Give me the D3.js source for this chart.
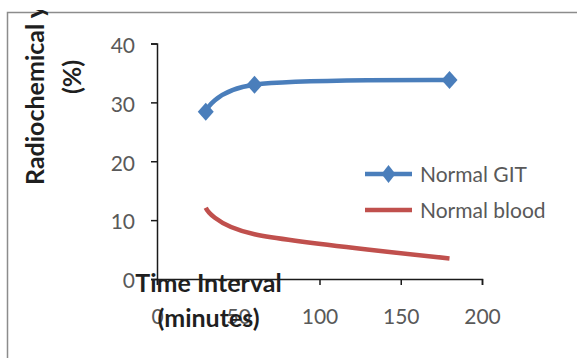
<!DOCTYPE html>
<html>
<head>
<meta charset="utf-8">
<script src="https://cdn.jsdelivr.net/npm/d3@7/dist/d3.min.js"></script>
<style>
  html, body { margin: 0; padding: 0; background: #fff; }
  svg { display: block; }
  text { font-family: Lato, "Open Sans", sans-serif; }
</style>
</head>
<body>
<svg id="chart" width="577" height="358"></svg>
<script>
// Sampling times (minutes) and radiochemical yield (%) per series
const times = [30, 60, 180];
const gitValues = [28.4, 33.0, 33.8];
const bloodValues = [12.1, 7.6, 3.5];

const seriesNames = ["Normal GIT", "Normal blood"];
const seriesColors = ["#4a7ebb", "#c0504d"];

const xTicks = [0, 50, 100, 150, 200];
const yTicks = [0, 10, 20, 30, 40];

const xTitleLines = ["Time Interval", "(minutes)"];
const yTitleLines = ["Radiochemical yield", "(%)"];

const svg = d3.select("#chart");
const W = 577, H = 358;

svg.append("rect").attr("width", W).attr("height", H).attr("fill", "#fff");

// Chart frame (extends past the right and bottom edges)
svg.append("rect")
  .attr("x", 7.5).attr("y", 12.5)
  .attr("width", W + 10).attr("height", H + 10)
  .attr("fill", "none").attr("stroke", "#8c8c8c").attr("stroke-width", 1.5);

const x = d3.scaleLinear().domain([0, 200]).range([157, 482]);
const y = d3.scaleLinear().domain([0, 40]).range([279, 43.5]);

const tickColor = "#595959";
const axisColor = "#1a1a1a";

// Y axis
const yAxis = svg.append("g")
  .attr("transform", `translate(${x(0)},0)`)
  .call(d3.axisLeft(y).tickValues(yTicks).tickSize(6).tickPadding(16).tickFormat(d3.format("d")));
yAxis.select(".domain").attr("stroke", axisColor).attr("stroke-width", 1.5);
yAxis.selectAll(".tick line").attr("stroke", axisColor).attr("stroke-width", 1.5);
yAxis.selectAll(".tick text")
  .attr("fill", tickColor).style("font-size", "21px").attr("dy", "0.42em");

// X axis
const xAxis = svg.append("g")
  .attr("transform", `translate(0,${y(0)})`)
  .call(d3.axisBottom(x).tickValues(xTicks).tickSize(6).tickPadding(24).tickFormat(d3.format("d")));
xAxis.select(".domain").attr("stroke", axisColor).attr("stroke-width", 1.5);
xAxis.selectAll(".tick line").attr("stroke", axisColor).attr("stroke-width", 1.5);
xAxis.selectAll(".tick text")
  .attr("fill", tickColor).style("font-size", "21px");

// Series lines (smoothed)
const line = d3.line()
  .x((d, i) => x(times[i]))
  .y(d => y(d))
  .curve(d3.curveCardinal.tension(0));

const seriesValues = [gitValues, bloodValues];
seriesValues.forEach((vals, k) => {
  svg.append("path")
    .datum(vals)
    .attr("d", line)
    .attr("fill", "none")
    .attr("stroke", seriesColors[k])
    .attr("stroke-width", 4.5)
    .attr("stroke-linejoin", "round");
});

// Diamond markers for the GIT series
const diamond = (cx, cy, hw, hh) => `M${cx},${cy - hh}L${cx + hw},${cy}L${cx},${cy + hh}L${cx - hw},${cy}Z`;
svg.selectAll(".git-marker")
  .data(gitValues)
  .enter().append("path")
  .attr("class", "git-marker")
  .attr("d", (d, i) => diamond(x(times[i]), y(d), 8, 9))
  .attr("fill", seriesColors[0]);

// Legend
const legend = svg.append("g");
const legendY = [174, 210];
seriesNames.forEach((name, k) => {
  legend.append("line")
    .attr("x1", 365).attr("x2", 412)
    .attr("y1", legendY[k]).attr("y2", legendY[k])
    .attr("stroke", seriesColors[k]).attr("stroke-width", 4.5);
  if (k === 0) {
    legend.append("path").attr("d", diamond(388.5, legendY[k], 7, 9)).attr("fill", seriesColors[k]);
  }
  legend.append("text")
    .attr("x", 420).attr("y", legendY[k]).attr("dy", "0.36em")
    .attr("fill", tickColor).style("font-size", "21px")
    .text(name);
});

// Axis titles
const titleColor = "#1f1f1f";
const xTitle = svg.append("text")
  .attr("text-anchor", "middle")
  .attr("fill", titleColor)
  .style("font-size", "25px").style("font-weight", "bold");
xTitleLines.forEach((t, i) => {
  xTitle.append("tspan").attr("x", 208.5).attr("y", 292 + i * 35).text(t);
});

svg.append("clipPath").attr("id", "titleClip")
  .append("rect").attr("x", 0).attr("y", 10).attr("width", W).attr("height", H);

const yTitleG = svg.append("g").attr("clip-path", "url(#titleClip)");
yTitleG.append("text")
  .attr("transform", "translate(44,185) rotate(-90)")
  .attr("text-anchor", "start")
  .attr("fill", titleColor)
  .style("font-size", "25px").style("font-weight", "bold")
  .text(yTitleLines[0]);
yTitleG.append("text")
  .attr("transform", "translate(81,77) rotate(-90)")
  .attr("text-anchor", "middle")
  .attr("fill", titleColor)
  .style("font-size", "25px").style("font-weight", "bold")
  .text(yTitleLines[1]);
</script>
</body>
</html>
